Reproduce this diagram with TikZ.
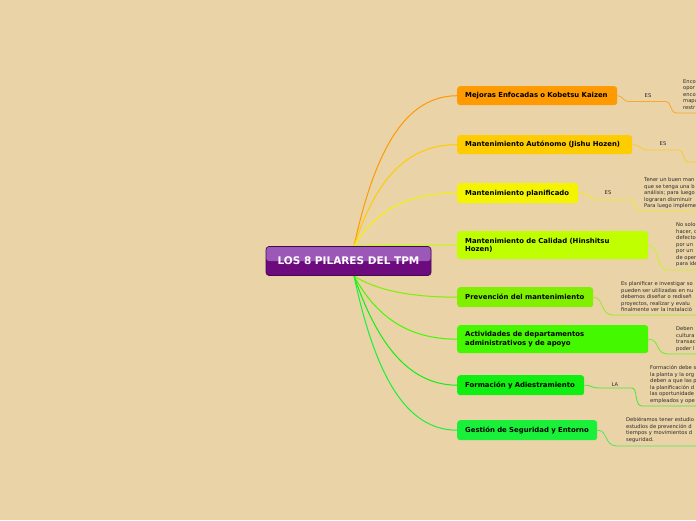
\documentclass[tikz,border=0pt]{standalone}
\usepackage{fontspec}
\setmainfont{DejaVu Sans}
\pgfdeclarelayer{bg}
\pgfsetlayers{bg,main}
\definecolor{bgc}{HTML}{E9D3A7}
\definecolor{ca}{HTML}{FF9A00}
\definecolor{cb}{HTML}{FFCC00}
\definecolor{cc}{HTML}{F4F400}
\definecolor{cd}{HTML}{BFFF00}
\definecolor{ce}{HTML}{80F000}
\definecolor{cf}{HTML}{44F800}
\definecolor{cg}{HTML}{11EE11}
\definecolor{ch}{HTML}{1AF03A}
\definecolor{ctopc}{HTML}{9C58B6}
\definecolor{cbotc}{HTML}{6C0A7E}
\definecolor{cbord}{HTML}{420A50}
\definecolor{leaftext}{HTML}{2A2A2A}
\begin{document}
\begin{tikzpicture}[x=1pt,y=-1pt,
  branch/.style={rounded corners=3pt, anchor=north west, inner xsep=8pt, inner ysep=0pt,
    align=left, font=\fontsize{6.9}{8.4}\selectfont\bfseries, text=black},
  leaf/.style={anchor=north west, inner sep=0pt, align=left,
    font=\fontsize{5.2}{6.5}\selectfont, text=leaftext},
  lab/.style={inner sep=0pt, font=\fontsize{5.2}{6}\selectfont, text=leaftext},
  conn/.style={line width=1pt},
  leafconn/.style={line width=0.8pt},
  hub/.style={rounded corners=3pt, draw=cbord, line width=0.6pt, fill=cbotc,
    minimum width=165pt, minimum height=29pt, inner sep=0pt, text=white,
    font=\fontsize{10.5}{12}\selectfont\bfseries,
    path picture={\fill[ctopc] (path picture bounding box.north west) rectangle (path picture bounding box.east);}}
]
\begin{pgfonlayer}{bg}
\fill[bgc] (0,0) rectangle (696,520);
\end{pgfonlayer}
\useasboundingbox (0,0) rectangle (696,520);

% hub
\node[hub] (c) at (348.5,261) {LOS 8 PILARES DEL TPM};

% branches
\node[branch, fill=ca, minimum width=160pt, minimum height=19pt, text width=144pt] (b1) at (457,86) {Mejoras Enfocadas o Kobetsu Kaizen};
\node[branch, fill=cb, minimum width=175pt, minimum height=19pt, text width=159pt] (b2) at (457,135) {Mantenimiento Autónomo (Jishu Hozen)};
\node[branch, fill=cc, minimum width=121pt, minimum height=20pt, text width=105pt] (b3) at (457,183) {Mantenimiento planificado};
\node[branch, fill=cd, minimum width=191pt, minimum height=28pt, text width=175pt] (b4) at (457,231) {Mantenimiento de Calidad (Hinshitsu\\Hozen)};
\node[branch, fill=ce, minimum width=136pt, minimum height=20pt, text width=120pt] (b5) at (457,287) {Prevención del mantenimiento};
\node[branch, fill=cf, minimum width=191pt, minimum height=28pt, text width=175pt] (b6) at (457,325) {Actividades de departamentos\\administrativos y de apoyo};
\node[branch, fill=cg, minimum width=127pt, minimum height=20pt, text width=111pt] (b7) at (457,375) {Formación y Adiestramiento};
\node[branch, fill=ch, minimum width=140pt, minimum height=20pt, text width=124pt] (b8) at (457,420) {Gestión de Seguridad y Entorno};

% labels
\node[lab] (l1) at (648,96) {ES};
\node[lab] (l2) at (663,144) {ES};
\node[lab] (l3) at (608,193) {ES};
\node[lab] (l7) at (615,385) {LA};

% leaves
\node[leaf] (t1) at (683,79.5) {Enco\\opor\\enco\\mapa\\restr};
\node[leaf] (t3) at (644,177.5) {Tener un buen man\\que se tenga una b\\análisis; para luego\\lograran disminuir\\Para luego impleme};
\node[leaf] (t4) at (676,222.5) {No solo\\hacer, c\\defecto\\por un\\por un\\de oper\\para ide};
\node[leaf] (t5) at (621,281.5) {Es planificar e investigar so\\pueden ser utilizadas en nu\\debemos diseñar o rediseñ\\proyectos, realizar y evalu\\finalmente ver la instalació};
\node[leaf] (t6) at (676,326.5) {Deben\\cultura\\transac\\poder l};
\node[leaf] (t7) at (650,365.5) {Formación debe s\\la planta y la org\\deben a que las p\\la planificación d\\las oportunidade\\empleados y ope};
\node[leaf] (t8) at (626,417.5) {Debiéramos tener estudio\\estudios de prevención d\\tiempos y movimientos d\\seguridad.};

% free ends
\coordinate (s1) at (354,246);
\coordinate (s2) at (354,276);
\coordinate (e1) at (696,113);
\coordinate (e2) at (696,162);
\coordinate (e3) at (696,211);
\coordinate (e4) at (696,270);
\coordinate (e5) at (696,315);
\coordinate (e6) at (696,354);
\coordinate (e7) at (696,406);
\coordinate (e8) at (696,446);

\begin{pgfonlayer}{bg}
\draw[conn, ca] (s1) .. controls (375,150) and (405,96) .. (b1.west);
\draw[conn, cb] (s1) .. controls (375,182) and (405,144.5) .. (b2.west);
\draw[conn, cc] (s1) .. controls (375,212) and (405,193) .. (b3.west);
\draw[conn, cd] (s1) .. controls (380,245.5) and (410,245) .. (b4.west);
\draw[conn, ce] (s2) .. controls (375,289) and (405,297) .. (b5.west);
\draw[conn, cf] (s2) .. controls (375,314) and (405,339) .. (b6.west);
\draw[conn, cg] (s2) .. controls (375,337) and (405,385) .. (b7.west);
\draw[conn, ch] (s2) .. controls (375,374) and (405,430) .. (b8.west);

\draw[leafconn, ca!75!bgc] (b1.east) .. controls (623,95.5) and (622,101.5) .. (630,101.5) -- (666,101.5) .. controls (672,101.5) and (669,113) .. (677,113) -- (e1);
\draw[leafconn, cb!75!bgc] (b2.east) .. controls (640,144.5) and (640,150) .. (648,150) -- (679,150) .. controls (685,150) and (682,162) .. (689,162) -- (e2);
\draw[leafconn, cc!75!bgc] (b3.east) .. controls (590,193) and (588,200) .. (600,200) -- (630,200) .. controls (637,200) and (633,211) .. (642,211) -- (e3);
\draw[leafconn, cd!75!bgc] (b4.east) .. controls (660,245) and (655,270) .. (668,270) -- (e4);
\draw[leafconn, ce!75!bgc] (b5.east) .. controls (604,297) and (600,315) .. (613,315) -- (e5);
\draw[leafconn, cf!75!bgc] (b6.east) .. controls (660,339) and (655,354) .. (668,354) -- (e6);
\draw[leafconn, cg!75!bgc] (b7.east) .. controls (592,385) and (590,388) .. (600,388) -- (632,388) .. controls (638,388) and (634,406) .. (642,406) -- (e7);
\draw[leafconn, ch!75!bgc] (b8.east) .. controls (608,430) and (604,446) .. (617,446) -- (e8);
\end{pgfonlayer}
\end{tikzpicture}
\end{document}
